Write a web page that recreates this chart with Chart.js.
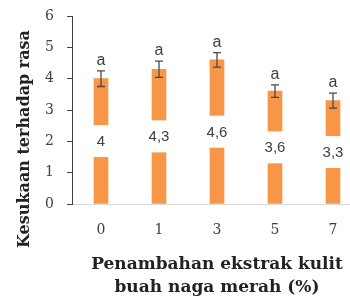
<!DOCTYPE html>
<html>
<head>
<meta charset="utf-8">
<script src="https://cdn.jsdelivr.net/npm/chart.js@4"></script>
<style>
  html, body { margin: 0; padding: 0; overflow: hidden; background: #fff; }
</style>
</head>
<body>
<canvas id="chart" width="366" height="300"></canvas>
<script>
// Data
const categories = ['0', '1', '3', '5', '7'];
const values = [4, 4.3, 4.6, 3.6, 3.3];
const errors = [0.25, 0.26, 0.23, 0.2, 0.24];
const valueLabels = ['4', '4,3', '4,6', '3,6', '3,3'];
const letters = ['a', 'a', 'a', 'a', 'a'];
const yTitle = 'Kesukaan terhadap rasa';
const xTitle = ['Penambahan ekstrak kulit', 'buah naga merah (%)'];

const textColor = '#404040';

// error bars, letters and labels inside the bars
const annotate = {
    id: 'annotate',
    afterDatasetsDraw(chart) {
        const ctx = chart.ctx;
        const yScale = chart.scales.y;
        const meta = chart.getDatasetMeta(0);
        ctx.save();
        meta.data.forEach((bar, i) => {
            // white gap with the value label in the middle of the bar
            const mid = (bar.y + bar.base) / 2;
            ctx.fillStyle = '#fff';
            ctx.fillRect(bar.x - 14, mid - 16, 28, 32);
            ctx.fillStyle = textColor;
            ctx.font = '15px "Liberation Sans", Arial, sans-serif';
            ctx.textAlign = 'center';
            ctx.textBaseline = 'alphabetic';
            ctx.fillText(valueLabels[i], bar.x, mid + 5);

            // error bar
            const top = yScale.getPixelForValue(values[i] + errors[i]);
            const bottom = yScale.getPixelForValue(values[i] - errors[i]);
            ctx.strokeStyle = '#4a4a4a';
            ctx.lineWidth = 1.3;
            ctx.beginPath();
            ctx.moveTo(bar.x, top);
            ctx.lineTo(bar.x, bottom);
            ctx.moveTo(bar.x - 4, top);
            ctx.lineTo(bar.x + 4, top);
            ctx.moveTo(bar.x - 4, bottom);
            ctx.lineTo(bar.x + 4, bottom);
            ctx.stroke();

            // significance letter
            ctx.font = '16px "Liberation Sans", Arial, sans-serif';
            ctx.fillText(letters[i], bar.x, top - 6);
        });

        // y axis title, set a bit lower than the plot centre as in the picture
        ctx.translate(25, 139);
        ctx.rotate(-Math.PI / 2);
        ctx.font = 'bold 16px "DejaVu Serif", serif';
        ctx.fillStyle = '#222';
        ctx.textAlign = 'center';
        ctx.textBaseline = 'middle';
        ctx.fillText(yTitle, 0, 0);
        ctx.restore();
    }
};

new Chart(document.getElementById('chart'), {
    type: 'bar',
    data: {
        labels: categories,
        datasets: [{
            data: values,
            backgroundColor: '#F79646',
            barThickness: 14
        }]
    },
    options: {
        responsive: false,
        animation: false,
        devicePixelRatio: 1,
        layout: { padding: { top: 16, right: 4, left: 0, bottom: 0 } },
        plugins: {
            legend: { display: false },
            tooltip: { enabled: false }
        },
        scales: {
            x: {
                grid: { display: false, drawTicks: false },
                border: { color: '#d9d9d9', width: 1 },
                ticks: {
                    color: textColor,
                    padding: 18,
                    font: { family: '"DejaVu Serif", serif', size: 14 }
                },
                title: {
                    display: true,
                    text: xTitle,
                    color: '#222',
                    font: { family: '"DejaVu Serif", serif', size: 17, weight: 'bold', lineHeight: 1.35 },
                    padding: { top: 0, bottom: 0.5 }
                },
                afterFit(scale) { scale.height = 96; }
            },
            y: {
                min: 0,
                max: 6,
                ticks: {
                    stepSize: 1,
                    color: textColor,
                    padding: 13,
                    font: { family: '"DejaVu Serif", serif', size: 14 }
                },
                grid: {
                    drawOnChartArea: false,
                    drawTicks: true,
                    tickLength: 5,
                    color: '#404040'
                },
                border: { color: '#404040', width: 1 },
                afterFit(scale) {
                    scale.width = 72;
                    scale.paddingTop = 0;
                }
            }
        }
    },
    plugins: [annotate]
});
</script>
</body>
</html>
